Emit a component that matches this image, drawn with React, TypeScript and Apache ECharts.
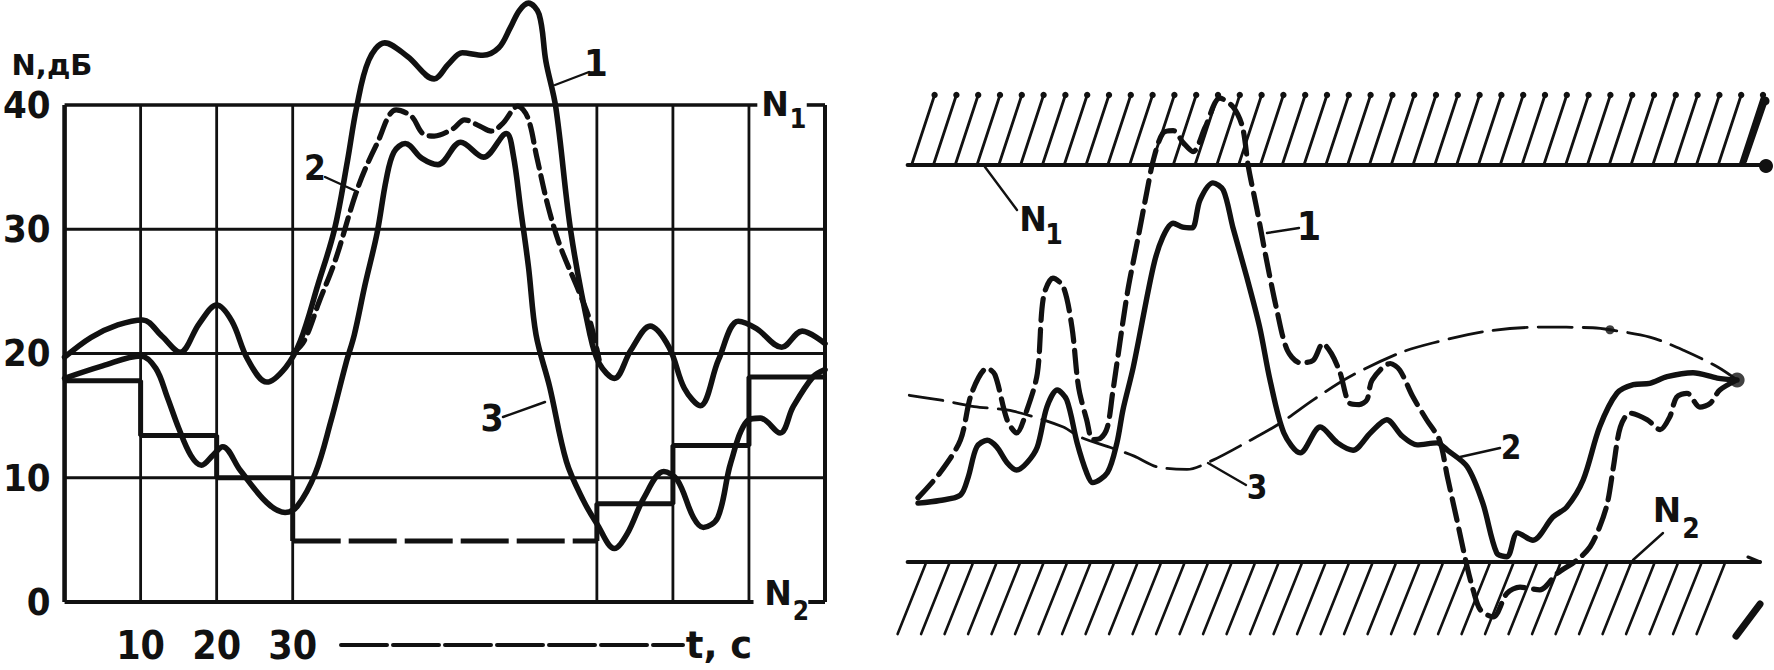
import React, { useEffect, useRef } from "react";
import * as echarts from "echarts";

const INK = "#111111";
const FONT = "'Liberation Sans Narrow', 'DejaVu Sans Condensed', 'Liberation Sans', 'DejaVu Sans', sans-serif";
const FONT_WIDE = "'DejaVu Sans', 'Liberation Sans', sans-serif";

// ---------------- left panel: N (dB) against t (s) ----------------
const leftYTicks = [0, 10, 20, 30, 40];
const leftXTickLabels = [10, 20, 30];
const leftGridT = [10, 20, 30, 70, 80, 90];
const leftGridN = [10, 20, 30];
const leftLevels = [40, 0]; // N1 (top line), N2 (bottom line)

const stepA = [[0, 17.8], [10, 13.4], [20, 10], [30, 4.9]];
const stepDash = [[30, 4.9], [70, 4.9]];
const stepB = [[70, 4.9], [80, 7.9], [90, 12.6], [100, 18.1]];

const curve1 = [
  [0, 19.7], [3.5, 21.3], [7, 22.3], [10.3, 22.7], [12.8, 21.4], [15.2, 20.1], [17.7, 22.4], [20, 23.9],
  [22, 22.6], [24.1, 19.5], [26.6, 17.7], [29.1, 18.9], [31, 21], [33.3, 25.5], [35.5, 30], [37.2, 35.5],
  [38.4, 39.8], [40, 43.6], [42.1, 45], [45.1, 43.9], [48.6, 42.1], [50.5, 43.3], [52.3, 44.2], [55, 44],
  [57.1, 44.6], [58.6, 46.2], [59.8, 47.6], [61, 48.2], [62.4, 47.3], [63.3, 43.5], [64.6, 39.8], [66.6, 29.7],
  [69.1, 21.5], [70.3, 19.2], [72.3, 18], [74.5, 20.3], [77, 22.2], [79.5, 20.5], [81.5, 17.2], [83.6, 15.8],
  [86, 19.5], [88.6, 22.6], [91, 22], [94.3, 20.5], [97, 21.8], [100, 20.8],
];

const curve2 = [
  [30, 20], [31.5, 21], [33.5, 24.2], [35.6, 27.5], [38.6, 33.4], [41.1, 36.9], [43.6, 39.6], [45.6, 39.1],
  [47.1, 37.7], [48.6, 37.5], [51.1, 38.1], [52.6, 38.8], [54.6, 38.3], [56.1, 37.9], [57.6, 38.5], [59.6, 39.9],
  [60.9, 39], [62.1, 35.8], [63.6, 31.8], [65.2, 28.6], [67.7, 24.9], [69.1, 22.6], [70.3, 19.5],
];

const curve3 = [
  [0, 18], [5, 19], [10, 19.8], [12, 18.8], [13.5, 16.5], [15, 14], [16.6, 11.8], [18, 11], [19.5, 11.8],
  [20.8, 12.5], [23.1, 10.6], [26.6, 8], [29, 7.2], [30.6, 7.7], [33, 10.4], [35, 14.5], [37, 19.2],
  [38.1, 21.5], [39.5, 25.5], [41.1, 29.7], [42.3, 34], [43.3, 36.2], [44.8, 36.9], [47, 35.7], [49.1, 35.2],
  [52.1, 37], [55.1, 35.8], [58.1, 37.7], [59, 36], [60, 31.5], [61, 27], [62, 21.5], [63.8, 17.3], [66, 11.3],
  [68.2, 8.2], [70, 6.3], [72.3, 4.3], [74, 5.5], [76.2, 8.4], [78.8, 10.5], [80.6, 9.8], [82.7, 6.8], [84, 6],
  [85.9, 6.8], [87.6, 11.2], [89.8, 14.6], [91.5, 14.8], [94.1, 13.6], [95.8, 15.7], [98.4, 18.1], [100, 18.7],
];

// ---------------- right panel: schematic, bands N1 / N2 ----------------
const rightLevels = [80, 20]; // N1 band (hatched above), N2 band (hatched below)

const rCurve1 = [
  [1.5, 29.7], [4, 33.4], [6.4, 38.4], [7.7, 45.5], [9.5, 49.3], [10.4, 48.3], [11.8, 41.5], [12.9, 39.5],
  [14.1, 43], [15.3, 48.5], [16, 60], [17.1, 62.9], [18.3, 61.6], [19.3, 55.5], [19.9, 48], [20.2, 45.5],
  [21, 41.5], [21.7, 38.5], [22.6, 38.7], [23.4, 40.4], [24, 45.5], [25.7, 60.6], [26.9, 68.7], [28, 76.2],
  [28.7, 80.7], [29.8, 84.8], [31, 85.2], [32.2, 83.3], [33.3, 82], [34.7, 85.7], [36.4, 90.1], [37.9, 88.8],
  [39, 85.8], [39.7, 79.7], [40.7, 73.2], [41.8, 65.6], [43, 58], [44.2, 52], [45.7, 50.1], [47.2, 50.5],
  [48.3, 53], [49.3, 51.5], [50.3, 48.6], [51.4, 44], [52.5, 43.8], [53.4, 44.5], [54, 47.5], [56.1, 50],
  [57.2, 49], [58.7, 45], [60.3, 41.5], [61.8, 38.4], [62.7, 32.9], [63.8, 26.4], [65, 19.2], [65.7, 15.7],
  [66.5, 12.8], [68, 11.7], [69.6, 15.3], [71.1, 16.2], [73.4, 15.8], [75.4, 18.3], [77.7, 20.3], [79.2, 22.3],
  [80.3, 25.3], [81.2, 28.9], [81.9, 34.4], [82.7, 40.4], [83.8, 42.5], [85.8, 41.5], [87.3, 40], [88.4, 41.9],
  [89.2, 44.9], [90.4, 45.5], [91.9, 43.4], [93.1, 44], [94.2, 46], [96.2, 47.5],
];

const rCurve2 = [
  [1.5, 28.9], [4, 29.3], [6.4, 30.1], [7.3, 32.8], [8.3, 37.4], [9.5, 38.4], [10.6, 37.4], [11.8, 35],
  [12.9, 33.9], [14.1, 35], [15.3, 37.4], [16.4, 43.4], [17.6, 46], [18.7, 44.5], [19.9, 38], [21, 33.5],
  [21.7, 32], [23.4, 33.5], [24.5, 38], [25.2, 43], [26.4, 49.5], [28.7, 64.6], [29.8, 69.1], [31, 71.2],
  [32.1, 70.6], [33.2, 70.5], [34.1, 74.7], [35.6, 77.3], [36.8, 76.2], [37.9, 70.6], [39.5, 63.1], [41, 55.5],
  [42.2, 47.5], [43.8, 39.5], [45.7, 36.5], [48, 40.4], [50, 38], [51.8, 36.9], [53.8, 39.5], [55.7, 41.5],
  [57.5, 39], [59.2, 37.7], [61.5, 38], [62.7, 36.9], [65, 34.4], [66.8, 28.9], [68.4, 21.4], [69.6, 20.8],
  [70.8, 24.4], [72.6, 23.3], [74.9, 26.8], [76.5, 28.3], [78.4, 32.4], [80.3, 40.4], [82.3, 45.5], [84.2, 46.8],
  [86.1, 47], [88.1, 48], [91.1, 48.6], [93.9, 47.8], [96.2, 47.5],
];

const rCurve3 = [
  [0.5, 45.2], [4, 44.5], [8, 43.5], [12.5, 42.8], [18.3, 40.4], [20.2, 38.9], [24, 37.2], [26.5, 36],
  [29.1, 34.4], [32.6, 34], [35.6, 35.4], [39.5, 38.1], [43.4, 41], [47.2, 44.5], [51.4, 48], [57.2, 51.6],
  [61, 53.1], [66.8, 54.8], [73.4, 55.5], [79.5, 55.4], [81.5, 55.1], [86.1, 54], [90, 52], [93.9, 49.5],
  [96.2, 47.5],
];
const rEndPoint = [[96.2, 47.5]];
const rCurve3Dot = [[81.5, 55.1]];

// ---------------- helpers ----------------
const seg = (data: number[][], width: number, type: any = "solid", step?: string) => ({
  type: "line",
  xAxisIndex: 0,
  yAxisIndex: 0,
  data,
  step: step || false,
  symbol: "none",
  silent: true,
  clip: false,
  lineStyle: { color: INK, width, type, cap: "butt" },
  z: 2,
});

const curve = (data: number[][], width: number, type: any, axis: number, smooth = 0.35) => ({
  type: "line",
  xAxisIndex: axis,
  yAxisIndex: axis,
  data,
  smooth,
  symbol: "none",
  silent: true,
  clip: false,
  lineStyle: { color: INK, width, type, cap: "round", join: "round" },
  z: 5,
});

const txt = (text: string, x: number, y: number, size: number, family = FONT) => ({
  type: "text",
  x,
  y,
  silent: true,
  z: 20,
  style: {
    text,
    fill: INK,
    font: `bold ${size}px ${family}`,
    textAlign: "center",
    textVerticalAlign: "middle",
    align: "center",
    verticalAlign: "middle",
  },
});

const ln = (x1: number, y1: number, x2: number, y2: number, w = 2.4, dash?: number[]) => ({
  type: "line",
  silent: true,
  z: 20,
  shape: { x1, y1, x2, y2 },
  style: { stroke: INK, lineWidth: w, lineDash: dash, lineCap: "round" },
});

function buildOption() {
  const [n1, n2] = leftLevels;
  const series: any[] = [];

  // frame and grid lines (left)
  series.push(seg([[0, n2], [0, n1]], 4.6));
  series.push(seg([[0, n1], [91.1, n1]], 3.6));
  series.push(seg([[97.6, n1], [100, n1]], 3.6));
  series.push(seg([[100, n2], [100, n1]], 4));
  series.push(seg([[0, n2], [90.6, n2]], 4));
  series.push(seg([[97.8, n2], [100, n2]], 4));
  leftGridN.forEach((n) => series.push(seg([[0, n], [100, n]], 2.8)));
  leftGridT.forEach((t) => series.push(seg([[t, n2], [t, n1]], 2.8)));

  // step (threshold) line
  series.push(seg(stepA, 5, "solid", "end"));
  series.push(seg(stepDash, 5, [48, 8]));
  series.push(seg(stepB, 5, "solid", "start"));

  // curves (left)
  series.push(curve(curve1, 5.6, "solid", 0));
  series.push(curve(curve2, 5.2, [18, 8], 0));
  series.push(curve(curve3, 5.6, "solid", 0));

  // hatched bands (right)
  series.push({
    type: "custom",
    xAxisIndex: 1,
    yAxisIndex: 1,
    silent: true,
    z: 3,
    data: rightLevels.map((lvl, i) => [lvl, i === 0 ? 1 : -1]),
    renderItem: (_params: any, api: any) => {
      const level = api.value(0);
      const dir = api.value(1);
      const start = api.coord([0.3, level]);
      const end = api.coord([100, level]);
      const y0 = start[1];
      const children: any[] = [];
      const L = (x1: number, y1: number, x2: number, y2: number, w: number) => ({
        type: "line",
        shape: { x1, y1, x2, y2 },
        style: { stroke: INK, lineWidth: w, lineCap: "round" },
      });
      const D = (cx: number, cy: number, r: number) => ({
        type: "circle",
        shape: { cx, cy, r },
        style: { fill: INK },
      });
      if (dir > 0) {
        children.push(L(start[0], y0, end[0] - 4, y0, 4));
        for (let x = start[0] + 4; x < end[0] - 30; x += 21.8) {
          children.push(L(x, y0, x + 23, y0 - 70, 2.8));
          children.push(D(x + 23, y0 - 70, 3.2));
        }
        children.push(L(end[0] - 26, y0 - 4, end[0] - 6, y0 - 62, 6));
        children.push(D(end[0] - 5, y0 - 64, 4.5));
        children.push(D(end[0] - 4, y0 + 1, 7));
      } else {
        children.push(L(start[0], y0, end[0] - 10, y0, 4));
        children.push(L(end[0] - 22, y0 - 5, end[0] - 10, y0, 3.2));
        for (let x = start[0] + 18; x < end[0] - 40; x += 23.5) {
          children.push(L(x, y0 + 2, x - 28, y0 + 72, 2.6));
        }
        children.push(L(end[0] - 10, y0 + 42, end[0] - 34, y0 + 74, 7));
      }
      return { type: "group", children };
    },
  });

  // curves (right)
  series.push(curve(rCurve3, 2.8, [34, 11], 1, 0.3));
  series.push(curve(rCurve2, 5.4, "solid", 1, 0.3));
  series.push(curve(rCurve1, 5.2, [22, 9], 1, 0.3));
  series.push({
    type: "scatter",
    xAxisIndex: 1,
    yAxisIndex: 1,
    data: rEndPoint,
    symbolSize: 15,
    silent: true,
    itemStyle: { color: INK },
    z: 6,
  });
  series.push({
    type: "scatter",
    xAxisIndex: 1,
    yAxisIndex: 1,
    data: rCurve3Dot,
    symbolSize: 9,
    silent: true,
    itemStyle: { color: INK },
    z: 6,
  });

  const graphic: any[] = [
    // left panel annotations
    txt("N,дБ", 52, 65, 29, FONT_WIDE),
    txt("1", 596, 63, 38),
    ln(555, 85, 589, 72),
    txt("2", 315, 168, 35),
    ln(325, 177, 358, 192),
    txt("3", 492, 418, 37),
    ln(503, 417, 545, 402),
    txt("N", 775, 104, 33, FONT_WIDE),
    txt("1", 798, 118, 27),
    txt("N", 778, 593, 33, FONT_WIDE),
    txt("2", 801, 611, 26),
    ln(341, 645, 683, 645, 4, [46, 6]),
    txt("t, с", 719, 645, 37, FONT_WIDE),
    // right panel annotations
    txt("N", 1033, 219, 33, FONT_WIDE),
    txt("1", 1054, 234, 28),
    ln(1017, 210, 985, 167),
    txt("1", 1309, 226, 39),
    ln(1267, 233, 1299, 228),
    txt("3", 1257, 487, 33),
    ln(1208, 463, 1246, 485),
    txt("2", 1511, 447, 33),
    ln(1460, 457, 1500, 448),
    txt("N", 1667, 510, 34, FONT_WIDE),
    txt("2", 1691, 528, 28),
    ln(1663, 533, 1633, 560),
  ];

  return {
    animation: false,
    backgroundColor: "#ffffff",
    grid: [
      { left: 61, right: 949, top: 0.6, bottom: 68 },
      { left: 905, right: 4, top: 65.7, bottom: 8.7 },
    ],
    xAxis: [
      {
        type: "value",
        gridIndex: 0,
        min: 0,
        max: 100,
        interval: 10,
        axisLine: { show: false },
        axisTick: { show: false },
        splitLine: { show: false },
        axisLabel: {
          margin: 24,
          color: INK,
          fontSize: 39,
          fontWeight: "bold",
          fontFamily: FONT,
          formatter: (v: number) => (leftXTickLabels.includes(v) ? String(v) : ""),
        },
      },
      { type: "value", gridIndex: 1, min: 0, max: 100, show: false },
    ],
    yAxis: [
      {
        type: "value",
        gridIndex: 0,
        min: 0,
        max: 48.4,
        interval: 10,
        axisLine: { show: false },
        axisTick: { show: false },
        splitLine: { show: false },
        axisLabel: {
          margin: 14,
          color: INK,
          fontSize: 38,
          lineHeight: 38,
          fontWeight: "bold",
          fontFamily: FONT,
          formatter: (v: number) => (leftYTicks.includes(v) ? String(v) : ""),
        },
      },
      { type: "value", gridIndex: 1, min: 5, max: 95, show: false },
    ],
    series,
    graphic,
  };
}

export default function App() {
  const ref = useRef<HTMLDivElement>(null);
  useEffect(() => {
    if (!ref.current) return;
    const chart = echarts.init(ref.current, undefined, { renderer: "svg", width: 1774, height: 670 });
    chart.setOption(buildOption() as any);
    return () => chart.dispose();
  }, []);
  return (
    <div
      ref={ref}
      style={{ position: "absolute", left: 0, top: 0, width: 1774, height: 670, background: "#fff" }}
    />
  );
}
